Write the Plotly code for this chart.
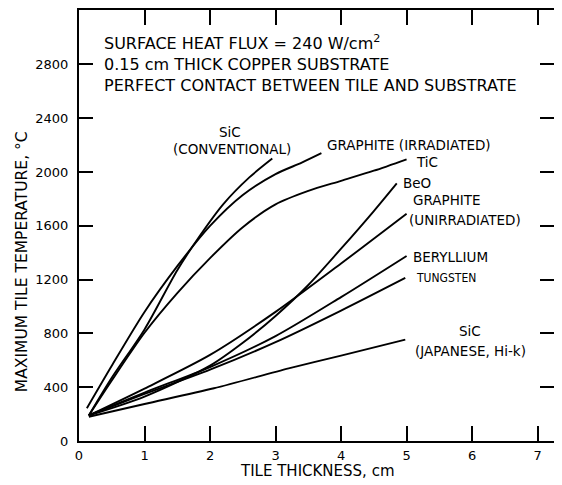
import plotly.graph_objects as go

# ---- data (tile thickness in cm, max tile temperature in deg C) ----
sic_conv_x = [0.15, 0.5, 1.0, 1.5, 1.85, 2.2, 2.6, 2.95]
sic_conv_y = [190, 470, 830, 1270, 1530, 1760, 1960, 2100]

graphite_irr_x = [0.12, 0.5, 1.0, 1.5, 2.0, 2.5, 3.0, 3.4, 3.7]
graphite_irr_y = [244, 560, 960, 1300, 1600, 1830, 1985, 2070, 2140]

tic_x = [0.15, 0.5, 1.0, 1.5, 2.0, 2.5, 3.0, 3.5, 4.0, 4.5, 5.0]
tic_y = [190, 450, 805, 1100, 1360, 1590, 1760, 1860, 1935, 2010, 2095]

beo_x = [0.15, 1.0, 2.0, 2.5, 3.0, 3.5, 4.0, 4.5, 4.85]
beo_y = [190, 330, 560, 730, 930, 1160, 1430, 1710, 1916]

graphite_unirr_x = [0.15, 1.0, 2.0, 3.0, 4.0, 5.0]
graphite_unirr_y = [190, 390, 640, 960, 1320, 1690]

beryllium_x = [0.15, 1.0, 2.0, 3.0, 4.0, 5.0]
beryllium_y = [190, 360, 550, 780, 1070, 1376]

tungsten_x = [0.15, 1.0, 2.0, 3.0, 4.0, 4.98]
tungsten_y = [190, 350, 530, 735, 970, 1213]

sic_jap_x = [0.15, 1.0, 2.06, 3.2, 4.0, 4.98]
sic_jap_y = [180, 275, 392, 540, 635, 754]

x_ticks = [0, 1, 2, 3, 4, 5, 6, 7]
y_ticks = [0, 400, 800, 1200, 1600, 2000, 2400, 2800]

series = [
    ("SiC (conventional)", sic_conv_x, sic_conv_y),
    ("Graphite (irradiated)", graphite_irr_x, graphite_irr_y),
    ("TiC", tic_x, tic_y),
    ("BeO", beo_x, beo_y),
    ("Graphite (unirradiated)", graphite_unirr_x, graphite_unirr_y),
    ("Beryllium", beryllium_x, beryllium_y),
    ("Tungsten", tungsten_x, tungsten_y),
    ("SiC (Japanese, Hi-k)", sic_jap_x, sic_jap_y),
]

FONT = "DejaVu Sans, Verdana, Arial, sans-serif"

fig = go.Figure()
for name, xs, ys in series:
    fig.add_trace(go.Scatter(x=xs, y=ys, mode="lines", name=name,
                             line=dict(color="black", width=1.9, shape="spline", smoothing=0.8),
                             showlegend=False, hoverinfo="skip"))

def label(text, x, y, anchor="left", size=13.5, font=FONT):
    fig.add_annotation(x=x, y=y, xref="x", yref="y", text=text, showarrow=False,
                       xanchor=anchor, yanchor="middle",
                       font=dict(family=font, size=size, color="black"))

# header text
label("SURFACE HEAT FLUX = 240 W/cm<sup>2</sup>", 0.35, 2966, size=16)
label("0.15 cm THICK COPPER SUBSTRATE", 0.35, 2803, size=16)
label("PERFECT CONTACT BETWEEN TILE AND SUBSTRATE", 0.35, 2640, size=16)

# curve labels
label("SiC", 2.31, 2300, anchor="center")
label("(CONVENTIONAL)", 2.34, 2175, anchor="center")
label("GRAPHITE (IRRADIATED)", 3.76, 2203)
label("TiC", 5.12, 2075)
label("BeO", 4.91, 1916)
label("GRAPHITE", 5.06, 1790)
label("(UNIRRADIATED)", 5.01, 1642)
label("BERYLLIUM", 5.06, 1368)
label("TUNGSTEN", 5.12, 1213, size=12, font="DejaVu Sans Condensed, Liberation Sans Narrow, Arial Narrow, sans-serif")
label("SiC", 5.97, 821, anchor="center")
label("(JAPANESE, Hi-k)", 5.98, 673, anchor="center")

# axis titles
fig.add_annotation(x=-0.12, y=0.415, xref="paper", yref="paper",
                   text="MAXIMUM TILE TEMPERATURE, °C", textangle=-90, showarrow=False,
                   xanchor="center", yanchor="middle",
                   font=dict(family=FONT, size=15.5, color="black"))
fig.add_annotation(x=0.503, y=-0.069, xref="paper", yref="paper",
                   text="TILE THICKNESS, cm", showarrow=False,
                   xanchor="center", yanchor="middle",
                   font=dict(family=FONT, size=15, color="black"))

fig.update_xaxes(range=[0, 7.25], tickvals=x_ticks, ticktext=[str(v) for v in x_ticks],
                 ticks="inside", ticklen=15, tickwidth=2, tickcolor="black",
                 showline=True, linewidth=2, linecolor="black", mirror="ticks",
                 showgrid=False, zeroline=False, ticklabelstandoff=1,
                 tickfont=dict(family=FONT, size=13, color="black"))
fig.update_yaxes(range=[0, 3205], tickvals=y_ticks, ticktext=[str(v) for v in y_ticks],
                 ticks="inside", ticklen=14, tickwidth=2, tickcolor="black",
                 showline=True, linewidth=2, linecolor="black", mirror="ticks",
                 showgrid=False, zeroline=False, ticklabelstandoff=6,
                 tickfont=dict(family=FONT, size=13, color="black"))

# the page body adds an 8px margin, so the figure is sized to fit the window
fig.update_layout(width=554, height=477,
                  margin=dict(l=71, r=8, t=0, b=44),
                  paper_bgcolor="white", plot_bgcolor="white",
                  showlegend=False)

fig.write_html("out.html")
